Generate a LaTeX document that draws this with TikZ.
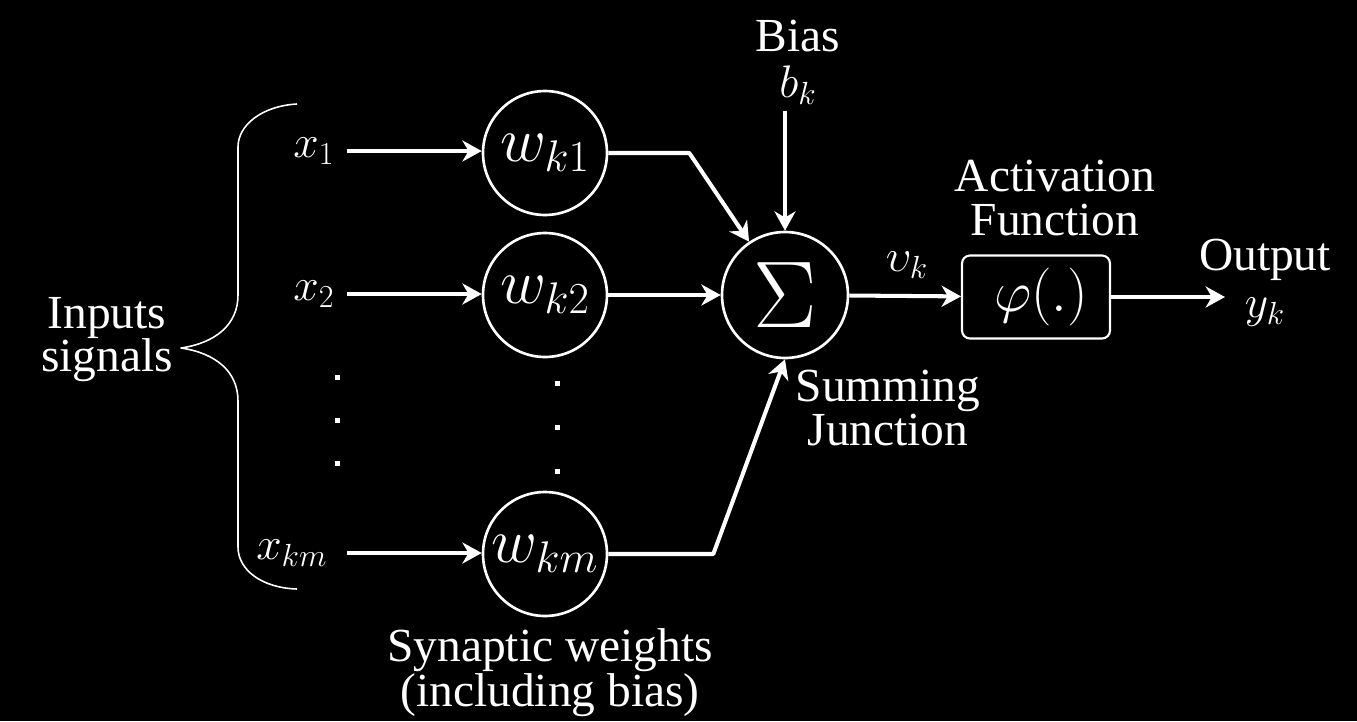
\RequirePackage{fix-cm}
\documentclass[tikz,border=0pt]{standalone}
\usepackage{fontspec}
\setmainfont{Liberation Serif}
\usepackage{amsmath}
\usetikzlibrary{arrows.meta}

\begin{document}
\begin{tikzpicture}[x=0.02cm,y=-0.02cm,line join=round,
  every node/.style={text=white},
  arr/.style={-{Stealth[length=11pt,width=12pt,inset=3.5pt]},white,line width=2.3pt},
  wcirc/.style={circle,draw=white,line width=1.5pt,minimum size=2.48cm,inner sep=0pt,font=\fontsize{36}{36}\selectfont},
  inlbl/.style={anchor=east,inner xsep=7pt,font=\fontsize{26}{26}\selectfont},
  txt/.style={align=center,font=\fontsize{27}{24.5}\selectfont}]
  \useasboundingbox (0,0) rectangle (1357,721);
  \fill[black] (0,0) rectangle (1357,721);
  % weights and inputs
  \node[wcirc] (w1) at (545,153) {$w_{k1}$};
  \node[wcirc] (w2) at (545,295) {$w_{k2}$};
  \node[wcirc] (wm) at (545,554) {$w_{km}$};
  \node[inlbl] (x1) at (347,151) {$x_1$};
  \node[inlbl] (x2) at (347,294) {$x_2$};
  \node[inlbl,inner xsep=11pt] (xm) at (347,553) {$x_{km}$};
  % summing junction and activation
  \node[circle,draw=white,line width=1.5pt,minimum size=2.52cm,inner sep=0pt,font=\fontsize{54}{54}\selectfont] (sum) at (785,295) {$\Sigma$};
  \node[txt] (bias) at (798,62) {Bias\\[2pt]{\fontsize{26}{26}\selectfont$b_k$}};
  \node[draw=white,line width=1.2pt,rounded corners=4.5pt,minimum width=2.96cm,minimum height=1.66cm,font=\fontsize{33}{33}\selectfont] (act) at (1036,297) {\hspace{6pt}$\varphi(.)$};
  \node[txt] (actlbl) at (1055,198) {Activation\\Function};
  \node[font=\fontsize{26}{26}\selectfont] (vk) at (907,265) {$\upsilon_k$};
  \node[txt] (out) at (1265,283) {Output\\[2pt]{\fontsize{26}{26}\selectfont$y_k$}};
  \coordinate (yend) at (1225,297);
  \node[txt] (sumlbl) at (888,408) {Summing\\Junction};
  \node[txt] (wlbl) at (550,673) {Synaptic weights\\(including bias)};
  \node[txt] (insig) at (107,340) {Inputs\\signals};
  % connectors
  \draw[arr] (x1.east) -- (x1.east -| w1.west);
  \draw[arr] (x2.east) -- (x2.east -| w2.west);
  \draw[arr] (xm.east) -- (xm.east -| wm.west);
  \draw[arr] (w1.east) -- ++(81,0) -- (sum);
  \draw[arr] (w2) -- (sum);
  \draw[arr] (wm.east) -- ++(105,0) -- (sum.south);
  \draw[arr] (bias.south -| sum) -- (sum);
  \draw[arr] (sum) -- (act);
  \draw[arr] (act) -- (yend);
  % brace
  \draw[white,line width=0.9pt] (297,104) .. controls (262,106) and (238,125) .. (238,147) -- (238,295)
    .. controls (238,325) and (215,343) .. (181,348) .. controls (215,353) and (238,371) .. (238,401)
    -- (238,547) .. controls (238,570) and (262,588) .. (297,589);
  % dots
  \fill[white] (334.5,374.5) rectangle ++(5,5);
  \fill[white] (334.5,417.5) rectangle ++(5,5);
  \fill[white] (334.5,460.5) rectangle ++(5,5);
  \fill[white] (554.5,380.5) rectangle ++(5,5);
  \fill[white] (554.5,424.5) rectangle ++(5,5);
  \fill[white] (554.5,468.5) rectangle ++(5,5);
\end{tikzpicture}
\end{document}
